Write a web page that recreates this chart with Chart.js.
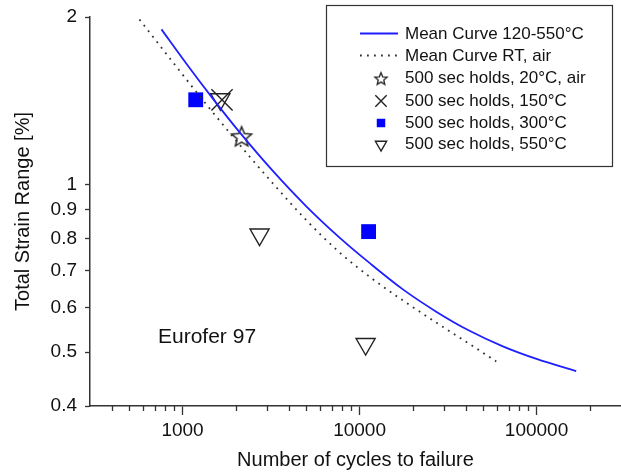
<!DOCTYPE html>
<html>
<head>
<meta charset="utf-8">
<script src="https://cdn.jsdelivr.net/npm/chart.js@4.4.0/dist/chart.umd.min.js"></script>
<style>
  html, body { margin: 0; padding: 0; background: #fff; overflow: hidden; }
  canvas { display: block; }
</style>
</head>
<body>
<canvas id="fatigueChart" width="621" height="475"></canvas>
<script>
// mean curve 120-550°C (cycles, strain range %)
const hotCurveCycles = [760, 1049, 1483, 2098, 3236, 5000, 7710, 11380, 17580, 27100, 41800, 64500, 100000, 167500];
const hotCurveStrain = [1.90, 1.650, 1.427, 1.242, 1.058, 0.914, 0.803, 0.723, 0.648, 0.591, 0.546, 0.512, 0.486, 0.462];

// mean curve RT, air
const rtCurveCycles = [571, 863, 1303, 2395, 3236, 5000, 7710, 11890, 17580, 27100, 41800, 59200];
const rtCurveStrain = [1.98, 1.673, 1.418, 1.122, 1.005, 0.863, 0.755, 0.676, 0.619, 0.565, 0.517, 0.481];

// 500 sec hold tests
const hold20Cycles = [2155];
const hold20Strain = [1.221];
const hold150Cycles = [1671];
const hold150Strain = [1.419];
const hold300Cycles = [1187, 11250];
const hold300Strain = [1.420, 0.823];
const hold550Cycles = [1635, 2723, 10820];
const hold550Strain = [1.423, 0.813, 0.517];

const xMajorTicks = [1000, 10000, 100000];
const xMinorTicks = [400, 500, 600, 700, 800, 900, 2000, 3000, 4000, 5000, 6000, 7000, 8000, 9000,
  20000, 30000, 40000, 50000, 60000, 70000, 80000, 90000, 200000];
const yTicks = [0.4, 0.5, 0.6, 0.7, 0.8, 0.9, 1, 2];

const FONT = "'Liberation Sans', Arial, sans-serif";
const INK = '#222';
const BLUE = '#1f1fff';

function toPoints(xs, ys) {
  return xs.map((x, i) => ({ x, y: ys[i] }));
}

// open five-point star used as a point style
function makeStar(outer, lineWidth) {
  const size = Math.ceil(outer * 2 + lineWidth * 2 + 2);
  const c = document.createElement('canvas');
  c.width = size;
  c.height = size;
  const g = c.getContext('2d');
  const cx = size / 2;
  const cy = size / 2 + outer * 0.1;
  const inner = outer * 0.45;
  g.beginPath();
  for (let i = 0; i < 10; i++) {
    const r = i % 2 === 0 ? outer : inner;
    const a = -Math.PI / 2 + i * Math.PI / 5;
    const px = cx + r * Math.cos(a);
    const py = cy + r * Math.sin(a);
    if (i === 0) g.moveTo(px, py); else g.lineTo(px, py);
  }
  g.closePath();
  g.lineJoin = 'miter';
  g.lineWidth = lineWidth;
  g.strokeStyle = INK;
  g.stroke();
  return c;
}

const starBig = makeStar(10.5, 1.5);
const starSmall = makeStar(6.5, 1.3);

const datasets = [
  {
    label: 'Mean Curve 120-550°C',
    type: 'line',
    data: toPoints(hotCurveCycles, hotCurveStrain),
    borderColor: BLUE,
    borderWidth: 1.8,
    pointRadius: 0,
    cubicInterpolationMode: 'monotone',
    fill: false,
  },
  {
    label: 'Mean Curve RT, air',
    type: 'line',
    data: toPoints(rtCurveCycles, rtCurveStrain),
    borderColor: '#333',
    borderWidth: 1.8,
    borderDash: [1.8, 5.2],
    pointRadius: 0,
    cubicInterpolationMode: 'monotone',
    fill: false,
  },
  {
    label: '500 sec holds, 20°C, air',
    data: toPoints(hold20Cycles, hold20Strain),
    pointStyle: starBig,
    legendStyle: starSmall,
    legendRadius: 6,
    pointRadius: 10,
    borderColor: INK,
    backgroundColor: 'rgba(0,0,0,0)',
  },
  {
    label: '500 sec holds, 150°C',
    data: toPoints(hold150Cycles, hold150Strain),
    pointStyle: 'crossRot',
    legendRadius: 8,
    pointRadius: 15,
    borderWidth: 1.4,
    borderColor: INK,
    backgroundColor: 'rgba(0,0,0,0)',
  },
  {
    label: '500 sec holds, 300°C',
    data: toPoints(hold300Cycles, hold300Strain),
    pointStyle: 'rect',
    legendRadius: 6,
    pointRadius: 10.5,
    borderWidth: 0,
    borderColor: '#0000ff',
    backgroundColor: '#0000ff',
  },
  {
    label: '500 sec holds, 550°C',
    data: toPoints(hold550Cycles, hold550Strain),
    pointStyle: 'triangle',
    rotation: 180,
    legendRadius: 6.5,
    pointRadius: 11,
    borderWidth: 1.4,
    borderColor: INK,
    backgroundColor: 'rgba(0,0,0,0)',
  },
];

// boxed legend inside the plot, plus material label and minor x ticks
const decorPlugin = {
  id: 'decor',
  afterDraw(chart) {
    const { ctx, chartArea, scales } = chart;
    const xs = scales.x;

    ctx.save();
    ctx.strokeStyle = '#333';
    ctx.lineWidth = 1.3;
    for (const v of xMinorTicks) {
      const px = Math.round(xs.getPixelForValue(v)) + 0.5;
      ctx.beginPath();
      ctx.moveTo(px, chartArea.bottom);
      ctx.lineTo(px, chartArea.bottom + 5);
      ctx.stroke();
    }

    ctx.fillStyle = '#111';
    ctx.font = `21px ${FONT}`;
    ctx.textAlign = 'left';
    ctx.textBaseline = 'alphabetic';
    ctx.fillText('Eurofer 97', 158, 343);

    // legend box
    ctx.strokeStyle = '#333';
    ctx.lineWidth = 1.2;
    ctx.strokeRect(326.5, 5.5, 286, 161);

    const rowY = [33, 55, 77.5, 100, 122, 143.5];
    ctx.font = `17px ${FONT}`;
    ctx.textBaseline = 'middle';
    chart.data.datasets.forEach((ds, i) => {
      const y = rowY[i];
      ctx.fillStyle = '#111';
      ctx.fillText(ds.label, 405, y + 1);
      if (ds.type === 'line') {
        ctx.save();
        ctx.strokeStyle = ds.borderColor;
        ctx.lineWidth = ds.borderWidth;
        ctx.setLineDash(ds.borderDash || []);
        ctx.beginPath();
        ctx.moveTo(360, y + 0.5);
        ctx.lineTo(398, y + 0.5);
        ctx.stroke();
        ctx.restore();
      } else {
        ctx.save();
        ctx.strokeStyle = ds.borderColor;
        ctx.fillStyle = ds.backgroundColor;
        ctx.lineWidth = ds.borderWidth || 1;
        Chart.helpers.drawPoint(ctx, {
          pointStyle: ds.legendStyle || ds.pointStyle,
          rotation: ds.rotation || 0,
          radius: ds.legendRadius,
          borderWidth: ds.borderWidth === 0 ? 0 : (ds.borderWidth || 1),
        }, 381, y + 1);
        ctx.restore();
      }
    });
    ctx.restore();
  },
};

const tickFont = { family: FONT, size: 19 };
const titleFont = { family: FONT, size: 20 };

new Chart(document.getElementById('fatigueChart'), {
  type: 'scatter',
  data: { datasets },
  options: {
    responsive: false,
    animation: false,
    devicePixelRatio: 1,
    layout: { autoPadding: false, padding: { top: 17, right: 0, bottom: 0, left: 0 } },
    plugins: {
      legend: { display: false },
      tooltip: { enabled: false },
    },
    scales: {
      x: {
        type: 'logarithmic',
        min: 300,
        max: 300000,
        border: { display: true, color: '#333', width: 1.5 },
        grid: { drawOnChartArea: false, drawTicks: true, tickLength: 9, tickWidth: 1.3, tickColor: '#333' },
        ticks: {
          font: tickFont,
          color: '#111',
          padding: 4,
          maxRotation: 0,
          autoSkip: false,
          callback: (v) => String(v),
        },
        afterBuildTicks: (s) => { s.ticks = xMajorTicks.map((v) => ({ value: v })); },
        afterFit: (s) => {
          s.height = 69;
          s.paddingLeft = 0;
          s.paddingRight = 0;
        },
        title: {
          display: true,
          text: 'Number of cycles to failure',
          font: titleFont,
          color: '#111',
          padding: { top: 0, bottom: 3 },
        },
      },
      y: {
        type: 'logarithmic',
        min: 0.4,
        max: 2,
        border: { display: true, color: '#333', width: 1.5 },
        grid: { drawOnChartArea: false, drawTicks: true, tickLength: 5, tickWidth: 1.3, tickColor: '#333' },
        ticks: {
          font: tickFont,
          color: '#111',
          padding: 8,
          autoSkip: false,
          callback: (v) => String(v),
        },
        afterBuildTicks: (s) => { s.ticks = yTicks.map((v) => ({ value: v })); },
        afterFit: (s) => {
          s.width = 90;
          s.paddingTop = 0;
          s.paddingBottom = 0;
        },
        title: {
          display: true,
          text: 'Total Strain Range [%]',
          font: titleFont,
          color: '#111',
          padding: { top: 11, bottom: 0 },
        },
      },
    },
  },
  plugins: [decorPlugin],
});
</script>
</body>
</html>
